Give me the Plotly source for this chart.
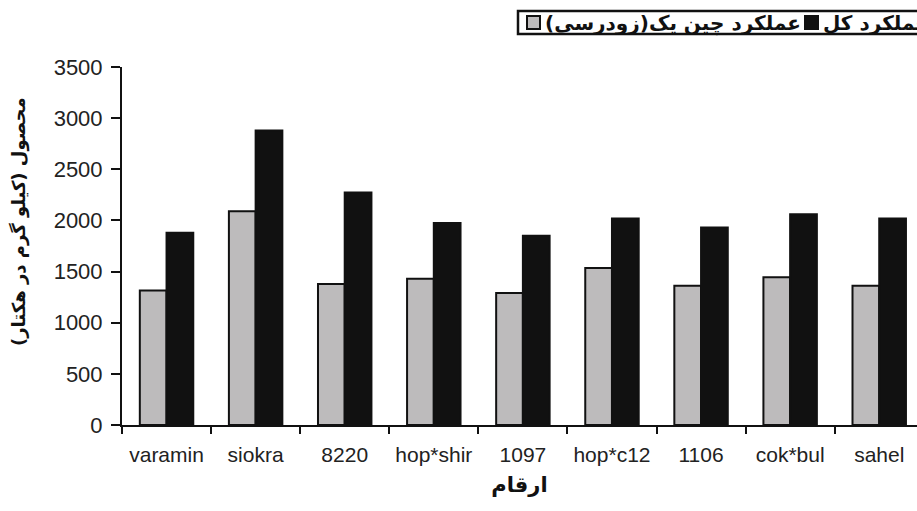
import plotly.graph_objects as go

cultivars = ["varamin", "siokra", "8220", "hop*shir", "1097", "hop*c12", "1106", "cok*bul", "sahel"]
first_cut_yield = [1316, 2090, 1378, 1430, 1291, 1535, 1362, 1444, 1362]
total_yield = [1880, 2880, 2272, 1975, 1850, 2018, 1932, 2060, 2018]
series_names = ["عملکرد چین یک(زودرسی)", "عملکرد کل"]
series_colors = ["#bdbbbc", "#111111"]
y_ticks = [0, 500, 1000, 1500, 2000, 2500, 3000, 3500]
x_title = "ارقام"
y_title = "محصول (کیلو گرم در هکتار)"

persian_font = "DejaVu Sans"
latin_font = "Liberation Sans"

W, H = 917, 511
ML, MR, MT, MB = 122, 0, 67, 86
PW, PH = W - ML - MR, H - MT - MB


def px_x(v):
    return (v - ML) / PW


def px_y(v):
    return (H - MB - v) / PH


fig = go.Figure()
for name, vals, col in zip(series_names, [first_cut_yield, total_yield], series_colors):
    fig.add_trace(go.Bar(
        x=cultivars, y=vals, name=name, showlegend=False,
        marker=dict(color=col, line=dict(color="#111111", width=2)),
    ))

# hand-built legend box, matching the reference (runs off the right edge there too)
shapes = [dict(type="rect", xref="paper", yref="paper",
               x0=px_x(518), x1=px_x(960), y0=px_y(34), y1=px_y(11),
               line=dict(color="#111111", width=2.5), fillcolor="white", layer="above")]
swatch_x = [527, 805]
text_x = [543, 821]
annotations = []
for name, col, sx, tx in zip(series_names, series_colors, swatch_x, text_x):
    shapes.append(dict(type="rect", xref="paper", yref="paper",
                       x0=px_x(sx), x1=px_x(sx + 13), y0=px_y(29), y1=px_y(16),
                       line=dict(color="#111111", width=2), fillcolor=col, layer="above"))
    annotations.append(dict(text=name, xref="paper", yref="paper", x=px_x(tx), y=px_y(23),
                            xanchor="left", yanchor="middle", showarrow=False,
                            font=dict(family=persian_font, size=20, color="#111111", weight="bold")))

annotations.append(dict(
    text=y_title, textangle=-90, xref="paper", yref="paper",
    x=px_x(19), y=px_y(222), xanchor="center", yanchor="middle", showarrow=False,
    font=dict(family=persian_font, size=18, color="#111111", weight="bold"),
))

fig.update_layout(
    width=W, height=H,
    margin=dict(l=ML, r=MR, t=MT, b=MB, pad=0, autoexpand=False),
    paper_bgcolor="white", plot_bgcolor="white",
    barmode="group", bargap=0.40, bargroupgap=0.0,
    showlegend=False,
    xaxis=dict(
        type="category", range=[-0.5, 8.424],
        showline=True, linecolor="#111111", linewidth=2,
        ticks="outside", tickson="boundaries", ticklen=7, tickwidth=2, tickcolor="#111111",
        tickfont=dict(family=latin_font, size=21, color="#222222"),
        ticklabelstandoff=10,
        showgrid=False, zeroline=False, automargin=False,
        title=dict(text=x_title, font=dict(family=persian_font, size=21, color="#111111", weight="bold"), standoff=12),
    ),
    yaxis=dict(
        range=[0, 3500], tickvals=y_ticks,
        showline=True, linecolor="#111111", linewidth=2,
        ticks="outside", ticklen=9, tickwidth=2, tickcolor="#111111",
        tickfont=dict(family=latin_font, size=22, color="#222222"),
        ticklabelstandoff=4,
        showgrid=False, zeroline=False, automargin=False,
    ),
    shapes=shapes,
    annotations=annotations,
)

fig.write_html("out.html", config={"displayModeBar": False, "staticPlot": True},
               post_script="document.body.style.margin='0';document.body.style.overflow='hidden';")
